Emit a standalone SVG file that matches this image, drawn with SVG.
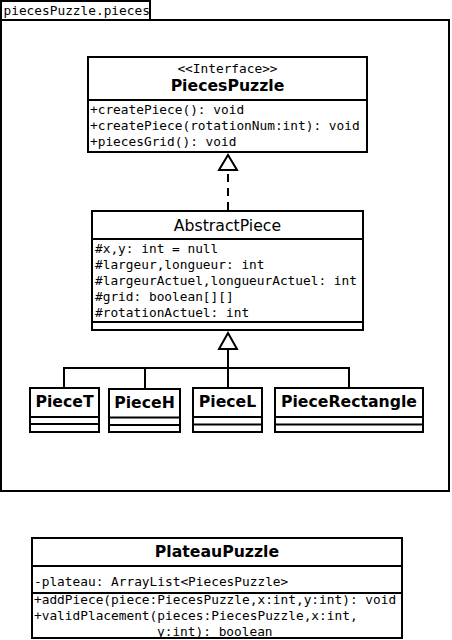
<svg xmlns="http://www.w3.org/2000/svg" width="452" height="640" viewBox="0 0 452 640">
<style>
.box{fill:#fff;stroke:#000;stroke-width:2}
.ln{stroke:#000;stroke-width:2;fill:none}
.mono{font-family:"DejaVu Sans Mono",monospace;font-size:12.8px;fill:#000}
.title{font-family:"DejaVu Sans",sans-serif;font-size:15.7px;font-weight:bold;fill:#000;text-anchor:middle}
.reg{font-family:"DejaVu Sans",sans-serif;font-size:15.7px;fill:#000;text-anchor:middle}
.conn{stroke:#000;stroke-width:2;fill:none}
.tri{fill:#fff;stroke:#000;stroke-width:2}
</style>
<g id="package">
<rect class="box" x="1" y="1" width="149" height="19"/>
<rect class="box" x="1" y="20" width="448" height="471"/>
<text class="mono" x="3.5" y="15" font-size="12.4">piecesPuzzle.pieces</text>
</g>
<g id="connectors">
<line class="conn" x1="228" y1="210" x2="228" y2="170" stroke-dasharray="8,6"/>
<polygon class="tri" points="228,155 219,170 237,170"/>
<polyline class="conn" points="64,388 64,368 349,368 349,388"/>
<line class="conn" x1="145" y1="368" x2="145" y2="388"/>
<line class="conn" x1="228" y1="349" x2="228" y2="388"/>
<polygon class="tri" points="228,333 219,349 237,349"/>
</g>
<g id="PiecesPuzzle">
<rect class="box" x="88" y="57" width="279" height="95"/>
<line class="ln" x1="88" y1="100" x2="367" y2="100"/>
<text class="mono" x="227.5" y="72.5" text-anchor="middle">&lt;&lt;Interface&gt;&gt;</text>
<text class="title" x="227.5" y="91">PiecesPuzzle</text>
<text class="mono" x="90" y="113.5">+createPiece(): void</text>
<text class="mono" x="90" y="130">+createPiece(rotationNum:int): void</text>
<text class="mono" x="90" y="146">+piecesGrid(): void</text>
</g>
<g id="AbstractPiece">
<rect class="box" x="92" y="211" width="271" height="119"/>
<line class="ln" x1="92" y1="239" x2="363" y2="239"/>
<line class="ln" x1="92" y1="322" x2="363" y2="322"/>
<text class="reg" x="227.5" y="231">AbstractPiece</text>
<text class="mono" x="95" y="252.5">#x,y: int = null</text>
<text class="mono" x="95" y="268.5">#largeur,longueur: int</text>
<text class="mono" x="95" y="284.5">#largeurActuel,longueurActuel: int</text>
<text class="mono" x="95" y="300.5">#grid: boolean[][]</text>
<text class="mono" x="95" y="316.5">#rotationActuel: int</text>
</g>
<g id="PieceT">
<rect class="box" x="30" y="388" width="69" height="44"/>
<line class="ln" x1="30" y1="417" x2="99" y2="417"/>
<line class="ln" x1="30" y1="424" x2="99" y2="424"/>
<text class="title" x="64.5" y="407">PieceT</text>
</g>
<g id="PieceH">
<rect class="box" x="109" y="389" width="71" height="43"/>
<line class="ln" x1="109" y1="417.5" x2="180" y2="417.5"/>
<line class="ln" x1="109" y1="425" x2="180" y2="425"/>
<text class="title" x="144.5" y="408">PieceH</text>
</g>
<g id="PieceL">
<rect class="box" x="193" y="388" width="69" height="44"/>
<line class="ln" x1="193" y1="417" x2="262" y2="417"/>
<line class="ln" x1="193" y1="424.5" x2="262" y2="424.5"/>
<text class="title" x="227.5" y="407">PieceL</text>
</g>
<g id="PieceRectangle">
<rect class="box" x="275" y="388" width="148" height="44"/>
<line class="ln" x1="275" y1="417" x2="423" y2="417"/>
<line class="ln" x1="275" y1="424.5" x2="423" y2="424.5"/>
<text class="title" x="349" y="407">PieceRectangle</text>
</g>
<g id="PlateauPuzzle">
<rect class="box" x="32" y="538" width="370" height="100"/>
<line class="ln" x1="32" y1="566" x2="402" y2="566"/>
<line class="ln" x1="32" y1="593" x2="402" y2="593"/>
<text class="title" x="217" y="556.5">PlateauPuzzle</text>
<text class="mono" x="34" y="586">-plateau: ArrayList&lt;PiecesPuzzle&gt;</text>
<text class="mono" x="34" y="604">+addPiece(piece:PiecesPuzzle,x:int,y:int): void</text>
<text class="mono" x="34" y="620">+validPlacement(pieces:PiecesPuzzle,x:int,</text>
<text class="mono" x="157" y="636">y:int): boolean</text>
</g>
</svg>
